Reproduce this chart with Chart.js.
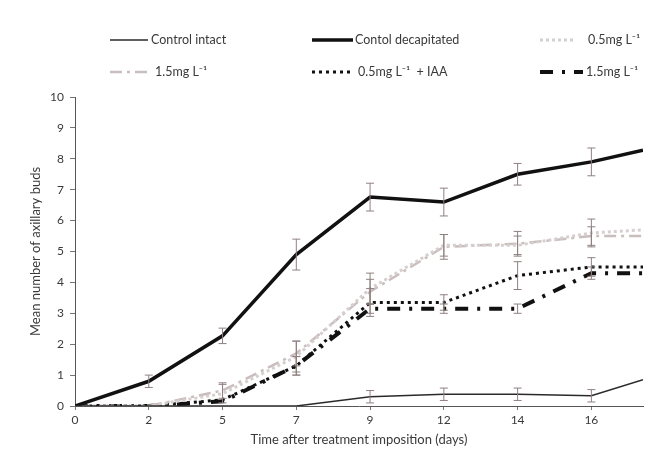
<!DOCTYPE html>
<html>
<head>
<meta charset="utf-8">
<script src="https://cdn.jsdelivr.net/npm/chart.js@4"></script>
<style>
  html, body { margin: 0; padding: 0; background: #fff; }
  #wrap { width: 657px; height: 452px; }
</style>
</head>
<body>
<div id="wrap"><canvas id="budChart" width="657" height="452"></canvas></div>
<script>
// x positions (category index) and their day labels
const dayLabels = ['0', '2', '5', '7', '9', '12', '14', '16'];
const xPos = [0, 1, 2, 3, 4, 5, 6, 7, 7.7];

// series means
const intact     = [0, 0, 0, 0, 0.3, 0.38, 0.38, 0.33, 0.85];
const decap      = [0, 0.8, 2.27, 4.9, 6.76, 6.6, 7.5, 7.9, 8.28];
const low        = [0, 0, 0.4, 1.6, 3.8, 5.2, 5.2, 5.6, 5.7];
const high       = [0, 0, 0.5, 1.7, 3.7, 5.15, 5.25, 5.5, 5.5];
const lowIAA     = [0, 0, 0.2, 1.3, 3.35, 3.35, 4.22, 4.5, 4.5];
const highIAA    = [0, 0, 0.15, 1.3, 3.15, 3.15, 3.15, 4.3, 4.3];

// error bars (+/-)
const intactErr  = [0, 0, 0, 0, 0.2, 0.2, 0.2, 0.2, 0];
const decapErr   = [0, 0.2, 0.25, 0.5, 0.45, 0.45, 0.35, 0.45, 0];
const lowErr     = [0, 0, 0.3, 0.5, 0.5, 0.35, 0.3, 0.45, 0];
const highErr    = [0, 0, 0.25, 0.4, 0.4, 0.4, 0.4, 0.3, 0];
const lowIAAErr  = [0, 0, 0, 0.3, 0.45, 0.25, 0.45, 0.3, 0];
const highIAAErr = [0, 0, 0, 0.3, 0.15, 0.15, 0.15, 0.2, 0];

const seriesNames = ['Control intact', 'Contol decapitated', '0.5mg L\u207B\u00B9',
  '1.5mg L\u207B\u00B9', '0.5mg L\u207B\u00B9  + IAA', '1.5mg L\u207B\u00B9'];

const pts = arr => arr.map((v, i) => ({ x: xPos[i], y: v }));

const FONT = 'Lato, "Open Sans", sans-serif';
const TEXT = '#3a3a3a';

// legend slots (sample start/end, text x, row y) in the order of the datasets
const legendSlots = [
  { x0: 110, x1: 148, tx: 151, y: 40 },
  { x0: 312, x1: 353, tx: 355, y: 40 },
  { x0: 540, x1: 573, tx: 588, y: 40 },
  { x0: 110, x1: 150, tx: 155, y: 72 },
  { x0: 312, x1: 350, tx: 358, y: 72 },
  { x0: 540, x1: 583, tx: 586, y: 72 }
];

const errorBars = {
  id: 'errorBars',
  afterDatasetsDraw(chart) {
    const ctx = chart.ctx;
    const y = chart.scales.y, x = chart.scales.x;
    ctx.save();
    ctx.strokeStyle = '#8f8080';
    ctx.lineWidth = 1;
    chart.data.datasets.forEach(ds => {
      ds.data.forEach((p, i) => {
        const e = ds.errors[i];
        if (!e) return;
        const px = x.getPixelForValue(p.x);
        const top = y.getPixelForValue(p.y + e);
        const bot = y.getPixelForValue(Math.max(p.y - e, 0));
        ctx.beginPath();
        ctx.moveTo(px, top); ctx.lineTo(px, bot);
        ctx.moveTo(px - 4, top); ctx.lineTo(px + 4, top);
        ctx.moveTo(px - 4, bot); ctx.lineTo(px + 4, bot);
        ctx.stroke();
      });
    });
    ctx.restore();
  }
};

const topLegend = {
  id: 'topLegend',
  afterDraw(chart) {
    const ctx = chart.ctx;
    ctx.save();
    ctx.font = '12.5px ' + FONT;
    ctx.textBaseline = 'middle';
    chart.data.datasets.forEach((ds, i) => {
      const s = legendSlots[i];
      ctx.strokeStyle = ds.borderColor;
      ctx.lineWidth = ds.borderWidth;
      ctx.setLineDash(ds.borderDash || []);
      ctx.lineCap = ds.borderCapStyle || 'butt';
      ctx.beginPath();
      ctx.moveTo(s.x0, s.y); ctx.lineTo(s.x1, s.y);
      ctx.stroke();
      ctx.setLineDash([]);
      ctx.fillStyle = TEXT;
      ctx.fillText(ds.label, s.tx, s.y);
    });
    ctx.restore();
  }
};

function makeSet(label, data, errors, color, width, dash, cap) {
  return {
    label, data: pts(data), errors,
    borderColor: color, backgroundColor: color,
    borderWidth: width, borderDash: dash, borderCapStyle: cap || 'butt',
    pointRadius: 0, tension: 0, fill: false
  };
}

new Chart(document.getElementById('budChart'), {
  type: 'line',
  data: {
    datasets: [
      makeSet(seriesNames[0], intact, intactErr, '#2a2a2a', 1.5, []),
      makeSet(seriesNames[1], decap, decapErr, '#111111', 3.5, []),
      makeSet(seriesNames[2], low, lowErr, '#d6cfcf', 3, [3, 3]),
      makeSet(seriesNames[3], high, highErr, '#c9bdbd', 2.5, [12, 5, 3, 5]),
      makeSet(seriesNames[4], lowIAA, lowIAAErr, '#111111', 3, [3, 4]),
      makeSet(seriesNames[5], highIAA, highIAAErr, '#111111', 4, [13, 9, 3, 9])
    ]
  },
  options: {
    responsive: false,
    animation: false,
    layout: { padding: { top: 97, right: 14, left: 24, bottom: 0 } },
    plugins: {
      legend: { display: false },
      tooltip: { enabled: false }
    },
    scales: {
      x: {
        type: 'linear',
        min: 0,
        max: 7.7,
        afterFit: s => { s.height = 46; },
        border: { color: '#555', width: 1 },
        grid: { display: true, drawOnChartArea: false, tickLength: 4, color: '#777' },
        ticks: {
          stepSize: 1,
          includeBounds: false,
          autoSkip: false,
          maxRotation: 0,
          color: TEXT,
          font: { family: FONT, size: 12 },
          padding: 3,
          callback: v => dayLabels[v] ?? ''
        },
        title: {
          display: true,
          text: 'Time after treatment imposition (days)',
          color: TEXT,
          font: { family: FONT, size: 13 },
          padding: { top: 0 }
        }
      },
      y: {
        min: 0,
        max: 10,
        afterFit: s => { s.width = 51; },
        border: { color: '#555', width: 1 },
        grid: { display: true, drawOnChartArea: false, tickLength: 5, color: '#777' },
        ticks: {
          stepSize: 1,
          color: TEXT,
          font: { family: FONT, size: 12 },
          padding: 6
        },
        title: {
          display: true,
          text: 'Mean number of axillary buds',
          color: TEXT,
          font: { family: FONT, size: 13 },
          padding: { bottom: 4 }
        }
      }
    }
  },
  plugins: [errorBars, topLegend]
});
</script>
</body>
</html>
